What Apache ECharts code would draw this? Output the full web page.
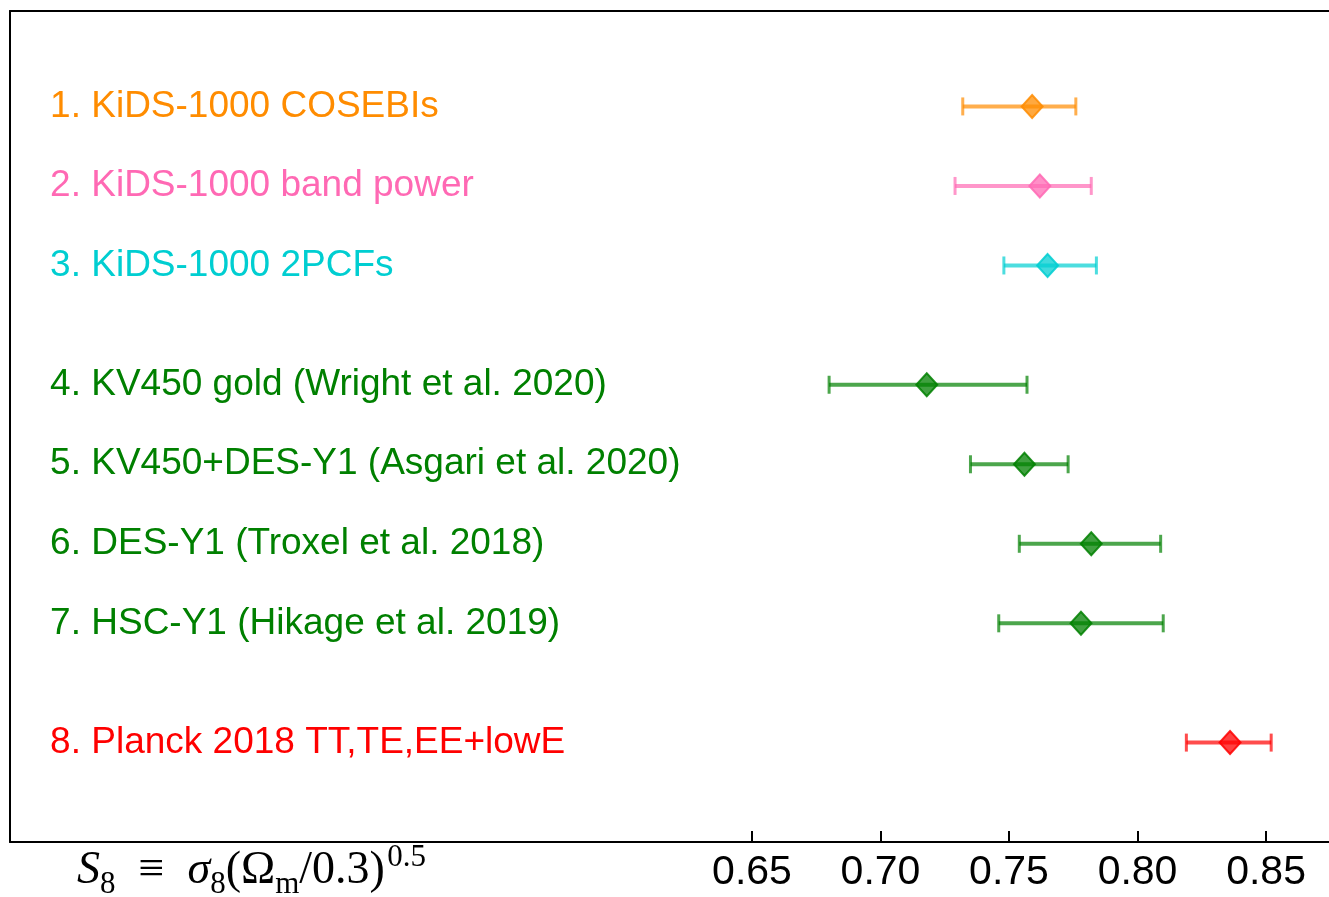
<!DOCTYPE html>
<html>
<head>
<meta charset="utf-8">
<script src="https://cdn.jsdelivr.net/npm/echarts@6/dist/echarts.min.js"></script>
<style>
html,body{margin:0;padding:0;background:#fff;}
#chart{width:1329px;height:897px;}
</style>
</head>
<body>
<div id="chart"></div>
<script>
// ---- data ----
var names = [
  "1. KiDS-1000 COSEBIs",
  "2. KiDS-1000 band power",
  "3. KiDS-1000 2PCFs",
  "4. KV450 gold (Wright et al. 2020)",
  "5. KV450+DES-Y1 (Asgari et al. 2020)",
  "6. DES-Y1 (Troxel et al. 2018)",
  "7. HSC-Y1 (Hikage et al. 2019)",
  "8. Planck 2018 TT,TE,EE+lowE"
];
var rowPos = [1, 2, 3, 4.5, 5.5, 6.5, 7.5, 9];
var s8Best = [0.759, 0.762, 0.765, 0.718, 0.756, 0.782, 0.778, 0.836];
var s8Low  = [0.732, 0.729, 0.748, 0.680, 0.735, 0.754, 0.746, 0.819];
var s8High = [0.776, 0.782, 0.784, 0.757, 0.773, 0.809, 0.810, 0.852];
var colors = ["#ff8c00", "#ff69b4", "#00ced1", "#008000", "#008000", "#008000", "#008000", "#ff0000"];
var tickValues = [0.65, 0.70, 0.75, 0.80, 0.85];
var labelAnchorX = 0.3769;

var chart = echarts.init(document.getElementById('chart'), null, {renderer: 'canvas'});

function hexA(hex, a) {
  var r = parseInt(hex.slice(1,3),16), g = parseInt(hex.slice(3,5),16), b = parseInt(hex.slice(5,7),16);
  return 'rgba(' + r + ',' + g + ',' + b + ',' + a + ')';
}

var errData = names.map(function (n, i) { return [s8Low[i], s8High[i], rowPos[i], i]; });
var ptData = names.map(function (n, i) {
  return {
    value: [s8Best[i], rowPos[i]],
    itemStyle: { color: hexA(colors[i], 0.75), borderColor: hexA(colors[i], 0.85), borderWidth: 2, opacity: 1 }
  };
});
var labelData = names.map(function (n, i) {
  return {
    value: [labelAnchorX, rowPos[i]],
    name: n,
    label: { color: colors[i] }
  };
});

var axisLineStyle = { color: '#000', width: 2 };

var option = {
  animation: false,
  backgroundColor: '#fff',
  grid: { left: 10, right: 0, top: 11, bottom: 55, show: false },
  xAxis: [{
    type: 'value',
    min: 0.3613,
    max: 0.8745,
    splitLine: { show: false },
    axisLine: { show: true, onZero: false, lineStyle: axisLineStyle },
    axisTick: { show: true, inside: true, length: 11, lineStyle: { color: '#000', width: 2 }, customValues: tickValues },
    axisLabel: {
      show: true, customValues: tickValues, margin: 10,
      fontFamily: 'Liberation Sans', fontSize: 41, color: '#000',
      formatter: function (v) { return v.toFixed(2); }
    }
  }, {
    type: 'value', position: 'top',
    min: 0.3613, max: 0.8745,
    splitLine: { show: false },
    axisLine: { show: true, onZero: false, lineStyle: axisLineStyle },
    axisTick: { show: false }, axisLabel: { show: false }
  }],
  yAxis: {
    type: 'value', inverse: true, min: -0.2, max: 10.25,
    splitLine: { show: false },
    axisLine: { show: true, onZero: false, lineStyle: axisLineStyle },
    axisTick: { show: false }, axisLabel: { show: false }
  },
  series: [
    {
      type: 'custom',
      data: errData,
      z: 2,
      renderItem: function (params, api) {
        var lo = api.coord([api.value(0), api.value(2)]);
        var hi = api.coord([api.value(1), api.value(2)]);
        var idx = api.value(3);
        var c = hexA(colors[idx], 0.7);
        var cap = 9;
        return {
          type: 'group',
          children: [
            { type: 'line', shape: { x1: lo[0], y1: lo[1], x2: hi[0], y2: hi[1] }, style: { stroke: c, lineWidth: 4 } },
            { type: 'line', shape: { x1: lo[0], y1: lo[1] - cap, x2: lo[0], y2: lo[1] + cap }, style: { stroke: c, lineWidth: 3 } },
            { type: 'line', shape: { x1: hi[0], y1: hi[1] - cap, x2: hi[0], y2: hi[1] + cap }, style: { stroke: c, lineWidth: 3 } }
          ]
        };
      }
    },
    {
      type: 'scatter',
      symbol: 'diamond',
      symbolSize: [21, 23],
      z: 3,
      data: ptData
    },
    {
      type: 'scatter',
      symbolSize: 0,
      z: 4,
      data: labelData,
      silent: true,
      itemStyle: { opacity: 1 },
      label: {
        show: true, position: 'right', distance: 0, opacity: 1,
        fontFamily: 'Liberation Sans', fontSize: 37,
        formatter: function (p) { return p.name; }
      }
    }
  ],
  graphic: [
    {
      type: 'text',
      left: 77,
      top: 842,
      style: {
        text: '{i|S}{sub|8}{n|  \u2261  }{i|\u03c3}{sub|8}{n|(\u03a9}{subr|m}{n|/0.3)}{sp| }{sup|0.5}',
        rich: {
          i:    { fontFamily: 'Liberation Serif', fontStyle: 'italic', fontSize: 46, lineHeight: 58, verticalAlign: 'middle', fill: '#000' },
          n:    { fontFamily: 'Liberation Serif', fontSize: 46, lineHeight: 58, verticalAlign: 'middle', fill: '#000' },
          sp:   { fontFamily: 'Liberation Serif', fontSize: 10, lineHeight: 10, verticalAlign: 'middle', fill: '#000' },
          sub:  { fontFamily: 'Liberation Serif', fontSize: 31, lineHeight: 31, verticalAlign: 'bottom', fill: '#000' },
          subr: { fontFamily: 'Liberation Serif', fontSize: 31, lineHeight: 31, verticalAlign: 'bottom', fill: '#000' },
          sup:  { fontFamily: 'Liberation Serif', fontSize: 31, lineHeight: 31, verticalAlign: 'top', fill: '#000' }
        }
      }
    }
  ]
};
chart.setOption(option);
</script>
</body>
</html>
